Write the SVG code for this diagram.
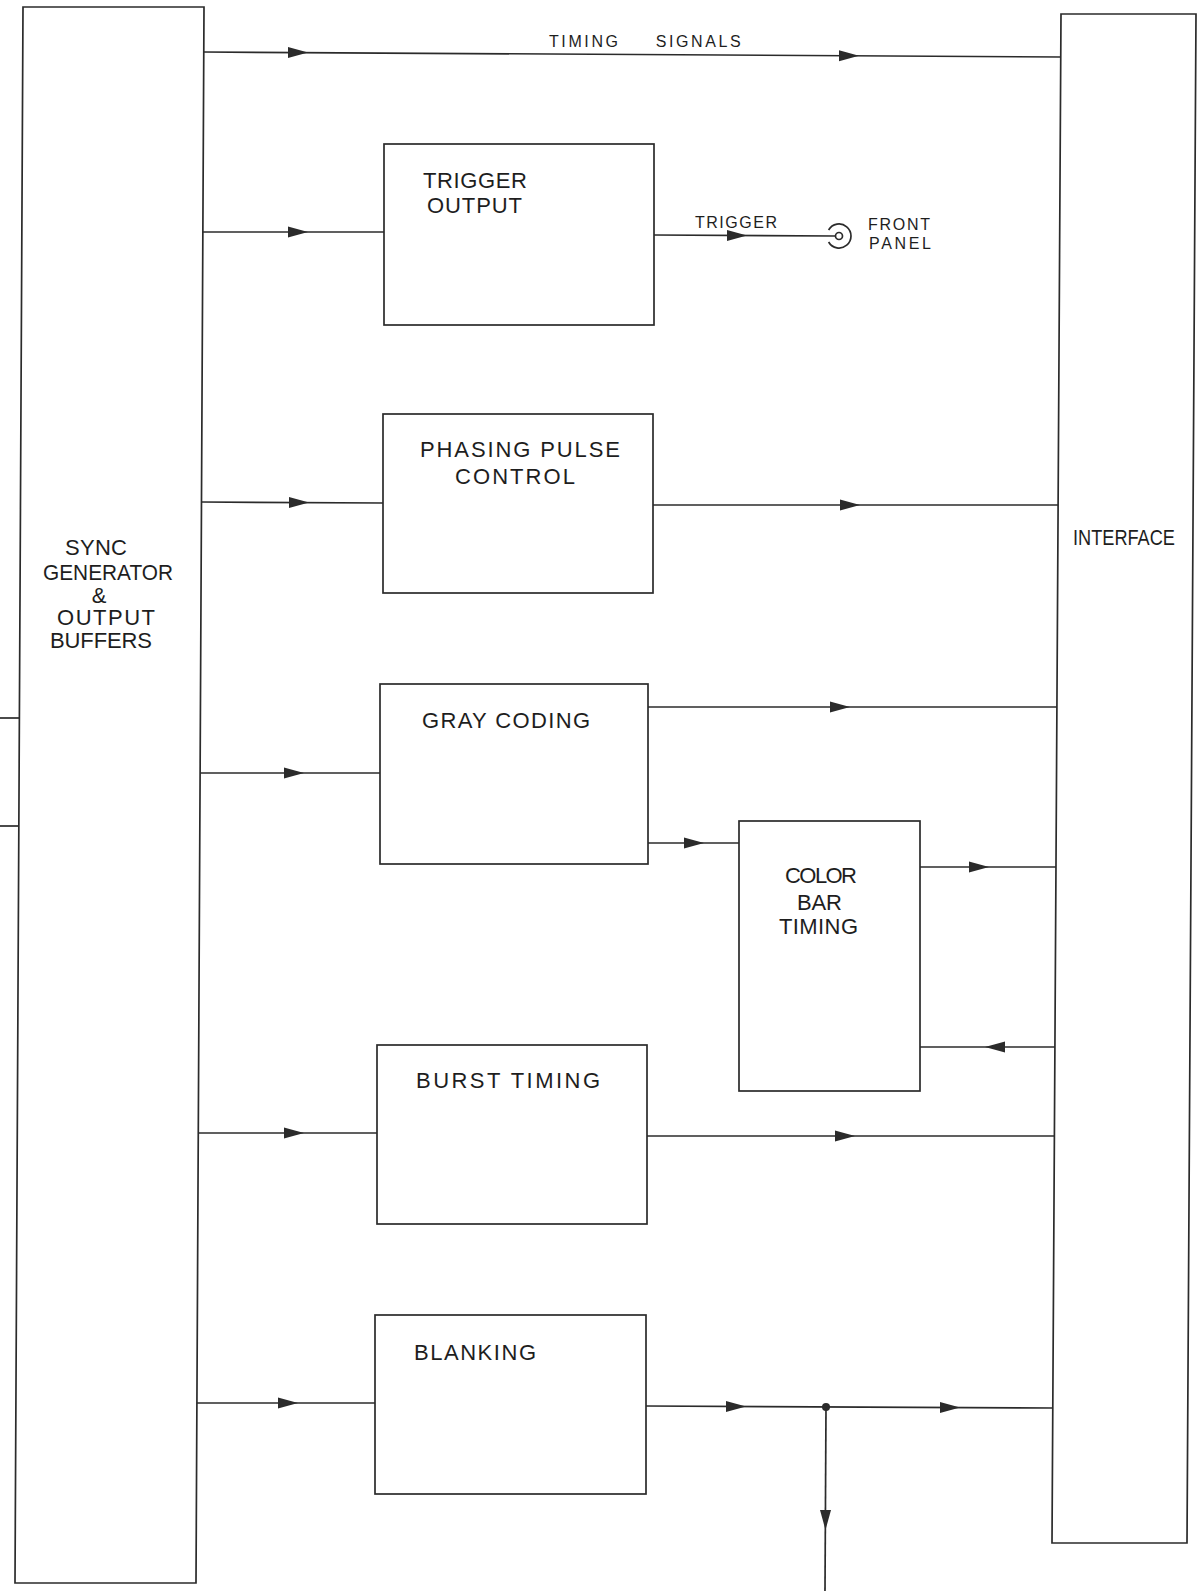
<svg xmlns="http://www.w3.org/2000/svg" xmlns:xlink="http://www.w3.org/1999/xlink" width="1201" height="1591" viewBox="0 0 1201 1591">
<style>
.box{fill:none;stroke:#2b2b2b;stroke-width:1.7}
.ln{fill:none;stroke:#2b2b2b;stroke-width:1.7}
.lbl{font-family:"Liberation Sans",Arial,sans-serif;font-size:22px;fill:#1e1e1e}
.sm{font-family:"Liberation Sans",Arial,sans-serif;font-size:16px;fill:#1e1e1e}
</style>
<defs>
<path id="ah" d="M0,0 L-20,-5.5 L-20,5.5 Z" fill="#2b2b2b"/>
</defs>
<rect width="1201" height="1591" fill="#ffffff"/>

<g id="sync">
<path class="box" d="M23,7 L204,7 L196,1583 L15,1583 Z"/>
<text class="lbl" x="65" y="555" textLength="62" lengthAdjust="spacing">SYNC</text>
<text class="lbl" x="43" y="580" textLength="130" lengthAdjust="spacingAndGlyphs">GENERATOR</text>
<text class="lbl" x="99" y="603" font-size="19" text-anchor="middle">&amp;</text>
<text class="lbl" x="57" y="625" textLength="98" lengthAdjust="spacing">OUTPUT</text>
<text class="lbl" x="50" y="648" textLength="102" lengthAdjust="spacing">BUFFERS</text>
</g>

<g id="interface">
<path class="box" d="M1061,14 L1196,14 L1187,1543 L1052,1543 Z"/>
<text class="lbl" x="1073" y="545" font-size="19" textLength="102" lengthAdjust="spacingAndGlyphs">INTERFACE</text>
</g>

<g id="trigger-output">
<rect class="box" x="384" y="144" width="270" height="181"/>
<text class="lbl" x="423" y="188" textLength="104" lengthAdjust="spacing">TRIGGER</text>
<text class="lbl" x="427" y="213" textLength="95" lengthAdjust="spacing">OUTPUT</text>
</g>

<g id="phasing-pulse-control">
<rect class="box" x="383" y="414" width="270" height="179"/>
<text class="lbl" x="420" y="457" textLength="200" lengthAdjust="spacing">PHASING PULSE</text>
<text class="lbl" x="455" y="484" textLength="120" lengthAdjust="spacing">CONTROL</text>
</g>

<g id="gray-coding">
<rect class="box" x="380" y="684" width="268" height="180"/>
<text class="lbl" x="422" y="728" textLength="168" lengthAdjust="spacing">GRAY CODING</text>
</g>

<g id="color-bar-timing">
<rect class="box" x="739" y="821" width="181" height="270"/>
<text class="lbl" x="785" y="883" font-size="19" textLength="72" lengthAdjust="spacing">COLOR</text>
<text class="lbl" x="797" y="910" font-size="20" textLength="45" lengthAdjust="spacing">BAR</text>
<text class="lbl" x="779" y="934" font-size="20" textLength="79" lengthAdjust="spacing">TIMING</text>
</g>

<g id="burst-timing">
<rect class="box" x="377" y="1045" width="270" height="179"/>
<text class="lbl" x="416" y="1088" textLength="184" lengthAdjust="spacing">BURST TIMING</text>
</g>

<g id="blanking">
<rect class="box" x="375" y="1315" width="271" height="179"/>
<text class="lbl" x="414" y="1360" textLength="122" lengthAdjust="spacing">BLANKING</text>
</g>

<g id="front-panel">
<circle cx="839" cy="236" r="3.5" class="ln"/>
<path class="ln" d="M828.6,230 A12,12 0 1 1 828.6,242"/>
<text class="sm" x="868" y="230" textLength="62" lengthAdjust="spacing">FRONT</text>
<text class="sm" x="869" y="249" textLength="62" lengthAdjust="spacing">PANEL</text>
</g>

<g id="connectors">
<line class="ln" x1="204" y1="52" x2="1061" y2="57"/>
<use xlink:href="#ah" transform="translate(308,52.6)"/>
<use xlink:href="#ah" transform="translate(859,55.8)"/>
<text class="sm" x="549" y="47" letter-spacing="2.6" word-spacing="28">TIMING SIGNALS</text>

<line class="ln" x1="203" y1="232" x2="384" y2="232"/>
<use xlink:href="#ah" transform="translate(308,232)"/>

<line class="ln" x1="654" y1="235" x2="835.5" y2="236"/>
<use xlink:href="#ah" transform="translate(747,235.5)"/>
<text class="sm" x="695" y="228" textLength="82" lengthAdjust="spacing">TRIGGER</text>

<line class="ln" x1="201.5" y1="502" x2="383" y2="503"/>
<use xlink:href="#ah" transform="translate(309,502.5)"/>
<line class="ln" x1="653" y1="505" x2="1058" y2="505"/>
<use xlink:href="#ah" transform="translate(860,505)"/>

<line class="ln" x1="200" y1="773" x2="380" y2="773"/>
<use xlink:href="#ah" transform="translate(304,773)"/>
<line class="ln" x1="648" y1="707" x2="1057" y2="707"/>
<use xlink:href="#ah" transform="translate(850,707)"/>
<line class="ln" x1="648" y1="843" x2="739" y2="843"/>
<use xlink:href="#ah" transform="translate(704,843)"/>

<line class="ln" x1="920" y1="867" x2="1056" y2="867"/>
<use xlink:href="#ah" transform="translate(989,867)"/>
<line class="ln" x1="1055" y1="1047" x2="920" y2="1047"/>
<use xlink:href="#ah" transform="translate(985,1047) rotate(180)"/>

<line class="ln" x1="198" y1="1133" x2="377" y2="1133"/>
<use xlink:href="#ah" transform="translate(304,1133)"/>
<line class="ln" x1="647" y1="1136" x2="1054" y2="1136"/>
<use xlink:href="#ah" transform="translate(855,1136)"/>

<line class="ln" x1="197" y1="1403" x2="375" y2="1403"/>
<use xlink:href="#ah" transform="translate(298,1403)"/>
<line class="ln" x1="646" y1="1406" x2="1053" y2="1408"/>
<use xlink:href="#ah" transform="translate(746,1406.5)"/>
<use xlink:href="#ah" transform="translate(960,1407.5)"/>
<circle cx="826" cy="1407" r="4" fill="#2b2b2b"/>
<line class="ln" x1="826" y1="1407" x2="825" y2="1591"/>
<use xlink:href="#ah" transform="translate(825.5,1530) rotate(90)"/>

<line class="ln" x1="0" y1="718" x2="20" y2="718"/>
<line class="ln" x1="0" y1="826" x2="19" y2="826"/>
</g>
</svg>
